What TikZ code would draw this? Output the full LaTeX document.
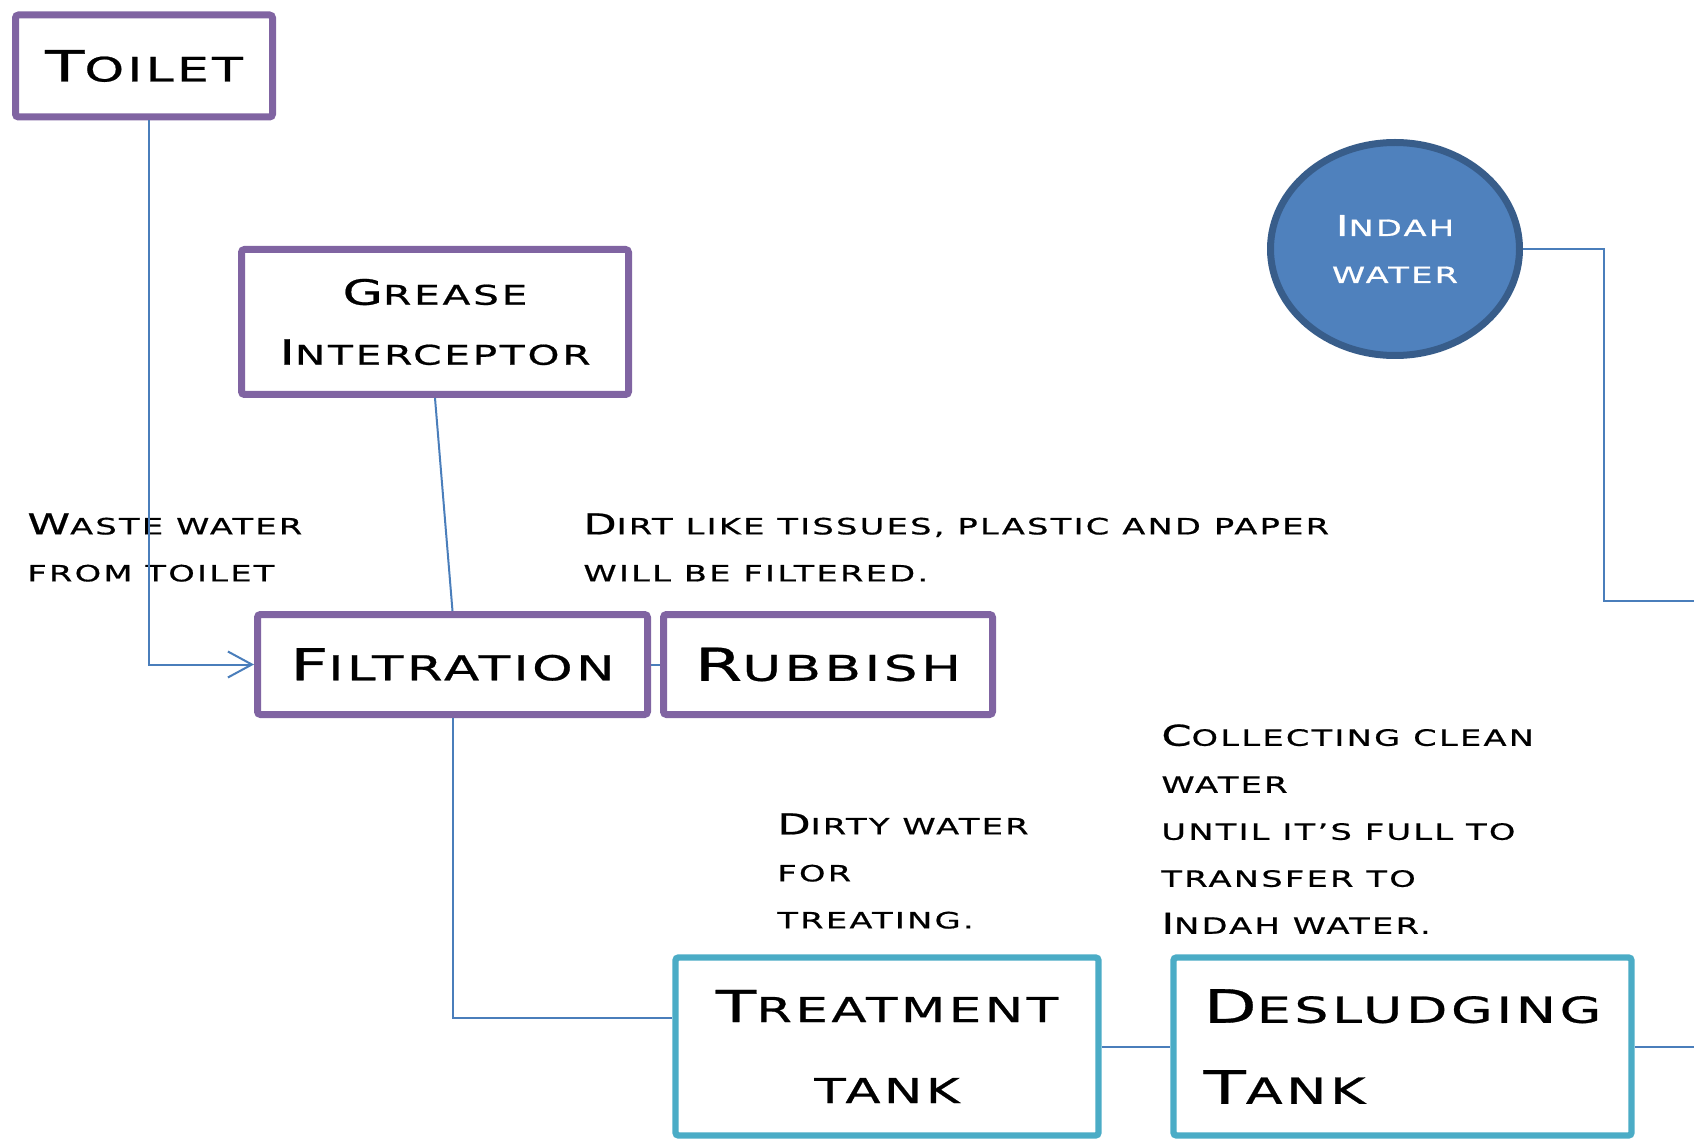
\documentclass[tikz,border=0pt]{standalone}
\usepackage{fontspec}
\setmainfont{DejaVu Sans}[FakeStretch=1.5,LetterSpace=10,FakeBold=0.7]
\usetikzlibrary{shapes.geometric, arrows.meta}

\definecolor{boxpurple}{HTML}{8064A2}
\definecolor{tankteal}{HTML}{4BACC6}
\definecolor{flowblue}{HTML}{4A7EBB}
\definecolor{indahfill}{HTML}{4F81BD}
\definecolor{indahedge}{HTML}{385D8A}

\makeatletter
\ExplSyntaxOn
\cs_new_protected:Npn \scfake_char:n #1
  {
    \str_if_eq:eeTF {#1} { \text_lowercase:n {#1} }
      {
        {
          \fontsize { \fp_eval:n { 0.78 * \f@size } } { \f@baselineskip }
          \selectfont \text_uppercase:n {#1}
        }
      }
      { #1 }
  }
\NewDocumentCommand \fakesc { m }
  {
    \tl_set:Nn \l_tmpa_tl {#1}
    \tl_replace_all:Nnn \l_tmpa_tl { ~ } { \c_space_tl }
    \tl_map_function:NN \l_tmpa_tl \scfake_char:n
  }
\ExplSyntaxOff
\makeatother

\begin{document}
\begin{tikzpicture}[x=0.5pt, y=-0.5pt, >={Straight Barb[length=12pt,width=13pt]},
    every node/.style={inner sep=0pt},
    stage/.style={draw=boxpurple, line width=3.5pt, rounded corners=1.5pt, fill=white, align=center},
    tank/.style={stage, draw=tankteal, line width=3.2pt},
    note/.style={anchor=north west, align=left, font=\fontsize{14.4}{23.5}\selectfont},
    flow/.style={draw=flowblue, line width=1pt}]
    \useasboundingbox (0,0) rectangle (1694,1139);

    \node[stage, minimum width=128.5pt, minimum height=51pt, font=\fontsize{21.5}{24}\selectfont] (toilet) at (144,66) {\fakesc{Toilet}};
    \node[stage, minimum width=193.5pt, minimum height=72.5pt, font=\fontsize{17.4}{30}\selectfont] (grease) at (435,322) {\fakesc{Grease}\\\fakesc{Interceptor}};
    \node[stage, minimum width=195pt, minimum height=50pt, font=\fontsize{22}{26}\selectfont] (filtration) at (452.5,664.5) {\fakesc{Filtration}};
    \node[stage, minimum width=164.5pt, minimum height=50pt, font=\fontsize{22.7}{26}\selectfont] (rubbish) at (828,664.5) {\fakesc{Rubbish}};
    \node[tank, minimum width=211.5pt, minimum height=89pt, font=\fontsize{22}{40.5}\selectfont] (treatment) at (887,1046.5) {\fakesc{Treatment}\\\fakesc{tank}};
    \node[tank, align=left, minimum width=229pt, minimum height=89pt, font=\fontsize{23}{40.5}\selectfont] (desludging) at (1402.5,1046.5) {\fakesc{Desludging}\\\fakesc{Tank}};
    \node[ellipse, draw=indahedge, fill=indahfill, line width=3.5pt, minimum width=124.5pt, minimum height=106.5pt, text=white, align=center, font=\fontsize{14.4}{23.5}\selectfont] (indah) at (1395,249) {\fakesc{Indah}\\\fakesc{water}};

    \node[note] (wastenote) at (27,513) {\fakesc{Waste water}\\\fakesc{from toilet}};
    \node[note] (dirtnote) at (583,513) {\fakesc{Dirt like tissues, plastic and paper}\\\fakesc{will be filtered.}};
    \node[note] (dirtynote) at (777,813) {\fakesc{Dirty water}\\\fakesc{for}\\\fakesc{treating.}};
    \node[note] (cleannote) at (1161,724) {\fakesc{Collecting clean}\\\fakesc{water}\\\fakesc{until it’s full to}\\\fakesc{transfer to}\\\fakesc{Indah water.}};

    \coordinate (drain) at (1694,1046.5);
    \coordinate (pipe) at (1604,601);
    \coordinate (pipeend) at (1694,601);

    \draw[flow, ->] ([xshift=2.5pt]toilet.south) |- (filtration.west);
    \draw[flow] (grease.south) -- (filtration.north);
    \draw[flow] (filtration.east) -- (rubbish.west);
    \draw[flow] (filtration.south) |- ([yshift=14.25pt]treatment.west);
    \draw[flow] (treatment.east) -- (desludging.west);
    \draw[flow] (desludging.east) -- (drain);
    \draw[flow] (indah.east) -| (pipe) -- (pipeend);
\end{tikzpicture}
\end{document}
